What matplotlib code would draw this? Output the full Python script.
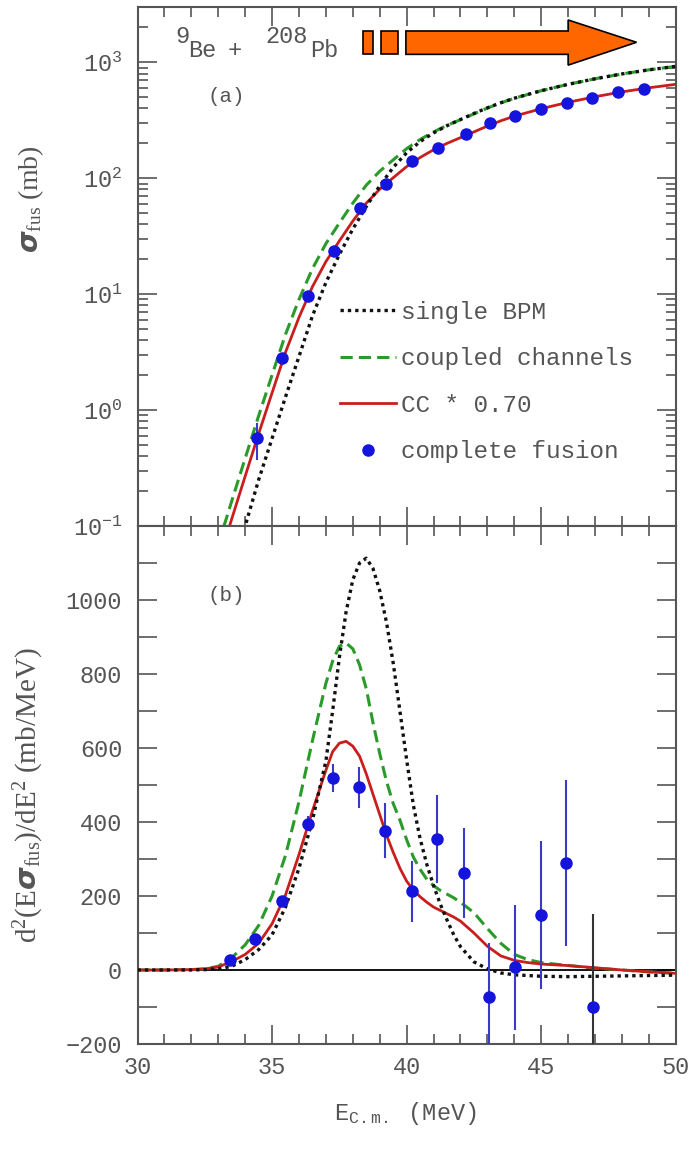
import numpy as np
import matplotlib
matplotlib.use("Agg")
import matplotlib.pyplot as plt
from matplotlib.patches import Polygon, Rectangle
from matplotlib.ticker import MultipleLocator, LogLocator, NullFormatter, FuncFormatter

plt.rcParams['font.family'] = ['Liberation Mono', 'DejaVu Sans']
plt.rcParams['mathtext.fontset'] = 'custom'
plt.rcParams['mathtext.rm'] = 'Liberation Serif'
plt.rcParams['mathtext.it'] = 'Liberation Serif:italic'
plt.rcParams['mathtext.bf'] = 'Liberation Serif:bold'
plt.rcParams['mathtext.tt'] = 'Liberation Mono'

# ---------------- data: panel (a) ----------------
E_cf = [34.44, 35.37, 36.33, 37.29, 38.28, 39.25, 40.20, 41.16, 42.19, 43.08,
        44.02, 45.00, 45.94, 46.90, 47.85, 48.81]
sigma_cf = [0.57, 2.81, 9.7, 23.4, 55.6, 90, 140, 183, 239, 297,
            344, 398, 442, 492, 559, 584]
sigma_err = [0.2, 0.1, 0.3, 0.6, 1.2, 2, 3, 4, 5, 6, 7, 8, 9, 10, 11, 12]

E_cc = [33.0, 33.3, 33.5, 34.0, 34.5, 35.0, 35.5, 36.0, 36.5, 37.0, 37.5, 38.0,
        38.5, 39.0, 39.5, 40.0, 40.5, 41.0, 41.5, 42.0, 42.5, 43.0, 43.5, 44.0,
        45.0, 46.0, 47.0, 48.0, 49.0, 50.0]
sigma_cc = [0.07, 0.116, 0.164, 0.384, 0.891, 2.01, 4.51, 9.01, 16.6, 27.3, 41.1, 61.0,
            87.1, 115, 144, 180, 216, 251, 286, 320, 359, 403, 447, 490,
            569, 646, 721, 794, 861, 923]
sigma_cc70 = [0.049, 0.081, 0.115, 0.269, 0.624, 1.41, 3.16, 6.31, 11.6, 19.1, 28.8, 42.7,
              61.0, 80.4, 101, 126, 151, 176, 200, 224, 251, 282, 313, 343,
              398, 452, 505, 556, 603, 646]

E_bpm = [33.5, 34.0, 34.5, 35.0, 35.5, 36.0, 36.5, 37.0, 37.5, 38.0, 38.5, 39.0,
         39.5, 40.0, 40.5, 41.0, 41.5, 42.0, 42.5, 43.0, 43.5, 44.0, 45.0, 46.0,
         47.0, 48.0, 49.0, 50.0]
sigma_bpm = [0.04, 0.1, 0.25, 0.57, 1.3, 2.9, 6.5, 12.6, 22.0, 36.5, 57, 86,
             124, 166, 207, 246, 284, 321, 362, 405, 448, 490, 569, 646,
             721, 794, 861, 923]

# ---------------- data: panel (b) ----------------
E_d = [33.44, 34.36, 35.36, 36.33, 37.28, 38.24, 39.20, 40.19, 41.13, 42.12,
       43.07, 44.04, 45.00, 45.93, 46.92]
d_val = [28, 84, 186, 395, 519, 494, 377, 213, 354, 262, -73, 7, 148, 289, -101]
d_err = [10, 12, 15, 20, 37, 55, 75, 82, 118, 121, 146, 169, 200, 225, 252]

E_b = [30.0, 31.0, 32.0, 32.5, 33.0, 33.5, 34.0, 34.5, 35.0, 35.5, 36.0, 36.5,
       37.0, 37.25, 37.5, 37.75, 38.0, 38.25, 38.5, 38.75, 39.0, 39.25, 39.5,
       39.75, 40.0, 40.25, 40.5, 40.75, 41.0, 41.25, 41.5, 41.75, 42.0, 42.5,
       43.0, 43.5, 44.0, 44.5, 45.0, 46.0, 47.0, 48.0, 49.0, 50.0]
d_bpm = [0, 0, 0, 1, 3, 10, 28, 55, 95, 170, 275, 405,
         565, 700, 845, 968, 1055, 1100, 1113, 1085, 1025, 940, 830,
         700, 568, 445, 355, 285, 228, 178, 135, 95, 63, 22,
         3, -8, -13, -15, -17, -18, -17, -16, -15, -14]
d_cc = [0, 0, 1, 3, 10, 33, 68, 120, 200, 310, 455, 620,
        775, 835, 875, 884, 868, 825, 760, 668, 585, 510, 450,
        405, 352, 305, 272, 245, 228, 215, 205, 195, 183, 155,
        112, 72, 42, 28, 20, 12, 5, 0, -5, -9]
d_cc70 = [0, 0, 1, 3, 8, 23, 42, 72, 125, 203, 312, 430,
          540, 590, 613, 618, 605, 578, 530, 475, 420, 365, 318,
          275, 240, 216, 198, 183, 170, 161, 152, 143, 132, 100,
          64, 38, 26, 20, 16, 12, 6, 0, -5, -9]

legend_labels = ['single BPM', 'coupled channels', 'CC * 0.70', 'complete fusion']

# ---------------- styles ----------------
c_black = '#111111'
c_green = '#2a9a2a'
c_red = '#c81e1e'
c_blue = '#1414dc'
c_err = '#3a3ac8'
c_axis = '#555555'
c_text = '#555555'

fig = plt.figure(figsize=(6.91, 11.49), dpi=100)
ax1 = fig.add_axes([0.199, 0.5422, 0.779, 0.4517])
ax2 = fig.add_axes([0.199, 0.0914, 0.779, 0.4508], sharex=ax1)

for ax in (ax1, ax2):
    for s in ax.spines.values():
        s.set_color(c_axis)
        s.set_linewidth(1.5)
    ax.tick_params(which='both', direction='in', top=True, right=True,
                   color=c_axis, labelcolor=c_text, labelsize=17, width=1.2)
    ax.tick_params(which='major', length=14)
    ax.tick_params(which='minor', length=7)

# panel (a)
ax1.plot(E_cc, sigma_cc, color=c_green, lw=2.2, ls=(0, (4, 2)), label=legend_labels[1], zorder=3)
ax1.plot(E_bpm, sigma_bpm, color=c_black, lw=2.4, ls=(0, (1, 1.2)), label=legend_labels[0], zorder=4)
ax1.plot(E_cc, sigma_cc70, color=c_red, lw=2.0, label=legend_labels[2], zorder=3)
ax1.errorbar(E_cf, sigma_cf, yerr=sigma_err, fmt='none', ecolor=c_err, elinewidth=1.5, zorder=5)
ax1.plot(E_cf, sigma_cf, 'o', color=c_blue, ms=8, label=legend_labels[3], zorder=6)
ax1.set_yscale('log')
ax1.set_ylim(0.1, 3000)
ax1.set_xlim(30, 50)
ax1.yaxis.set_major_locator(LogLocator(base=10, numticks=10))
ax1.yaxis.set_minor_locator(LogLocator(base=10, subs=np.arange(2, 10), numticks=20))
ax1.yaxis.set_minor_formatter(NullFormatter())
ax1.tick_params(axis='y', pad=11)
ax1.tick_params(axis='x', labelbottom=False)
ax1.xaxis.set_major_locator(MultipleLocator(5))
ax1.xaxis.set_minor_locator(MultipleLocator(1))

handles, labels = ax1.get_legend_handles_labels()
order = [labels.index(l) for l in legend_labels]
ax1.legend([handles[i] for i in order], [labels[i] for i in order],
           loc='upper left', bbox_to_anchor=(0.376, 0.434), frameon=False,
           fontsize=17.5, handlelength=2.3, handletextpad=0.2, labelspacing=0.97,
           borderpad=0, borderaxespad=0, numpoints=1, labelcolor=c_text)

ax1.text(0.164, 0.8285, '(a)', transform=ax1.transAxes, fontsize=15,
         color=c_text, ha='center', va='center')
# reaction label: mass numbers raised, element symbols lowered
for txt, fx, fy, ha in [('9', 0.0696, 0.944, 'left'), ('Be', 0.0938, 0.917, 'left'),
                        ('+', 0.181, 0.917, 'center'),
                        ('208', 0.2368, 0.944, 'left'), ('Pb', 0.3203, 0.917, 'left')]:
    ax1.text(fx, fy, txt, transform=ax1.transAxes, fontsize=17, color=c_text,
             ha=ha, va='center')

# orange arrow decoration (axes fraction)
orange = '#ff6600'
ax1.add_patch(Rectangle((0.4193, 0.9088), 0.0175, 0.045, transform=ax1.transAxes,
                        facecolor=orange, edgecolor='black', lw=1.2, clip_on=False, zorder=7))
ax1.add_patch(Rectangle((0.4516, 0.9088), 0.0327, 0.045, transform=ax1.transAxes,
                        facecolor=orange, edgecolor='black', lw=1.2, clip_on=False, zorder=7))
arrow_xy = [(0.4986, 0.9088), (0.8000, 0.9088), (0.8000, 0.888), (0.927, 0.932),
            (0.8000, 0.975), (0.8000, 0.9538), (0.4986, 0.9538)]
ax1.add_patch(Polygon(arrow_xy, closed=True, transform=ax1.transAxes,
                      facecolor=orange, edgecolor='black', lw=1.2, clip_on=False, zorder=7))

ax1.set_ylabel(r'$\boldsymbol{\sigma}_{\mathrm{fus}}$ (mb)', fontsize=20,
               family='Liberation Serif', color=c_text)
ax1.yaxis.set_label_coords(-0.17, 0.63)

# panel (b)
ax2.axhline(0, color='black', lw=1.3, zorder=2)
ax2.plot(E_b, d_cc, color=c_green, lw=2.2, ls=(0, (4, 2)), zorder=3)
ax2.plot(E_b, d_bpm, color=c_black, lw=2.4, ls=(0, (1, 1.2)), zorder=4)
ax2.plot(E_b, d_cc70, color=c_red, lw=2.0, zorder=3)
err_colors = [c_err] * (len(E_d) - 1) + ['#333333']
for e, v, er, ec in zip(E_d, d_val, d_err, err_colors):
    ax2.errorbar([e], [v], yerr=[er], fmt='none', ecolor=ec, elinewidth=1.5, zorder=5)
ax2.plot(E_d, d_val, 'o', color=c_blue, ms=8, zorder=6)
ax2.set_ylim(-200, 1200)
ax2.yaxis.set_major_locator(MultipleLocator(100))
ax2.yaxis.set_major_formatter(FuncFormatter(
    lambda v, p: ('\u2212%d' % abs(v) if v < 0 else '%d' % v) if int(round(v)) % 200 == 0 and v < 1100 else ''))
ax2.tick_params(axis='y', pad=11)
ax2.tick_params(axis='x', pad=9)
ax2.text(0.164, 0.865, '(b)', transform=ax2.transAxes, fontsize=15,
         color=c_text, ha='center', va='center')
ax2.set_ylabel(r'$\mathrm{d^2(E}\boldsymbol{\sigma}_{\mathrm{fus}}\mathrm{)/dE^2}$ (mb/MeV)',
               fontsize=21, family='Liberation Serif', color=c_text)
ax2.yaxis.set_label_coords(-0.17, 0.48)
ax2.set_xlabel(r'$\mathtt{E_{C.m.}}$ (MeV)', fontsize=17, color=c_text)
ax2.xaxis.set_label_coords(0.497, -0.108)

fig.savefig('out.png', dpi=100)
